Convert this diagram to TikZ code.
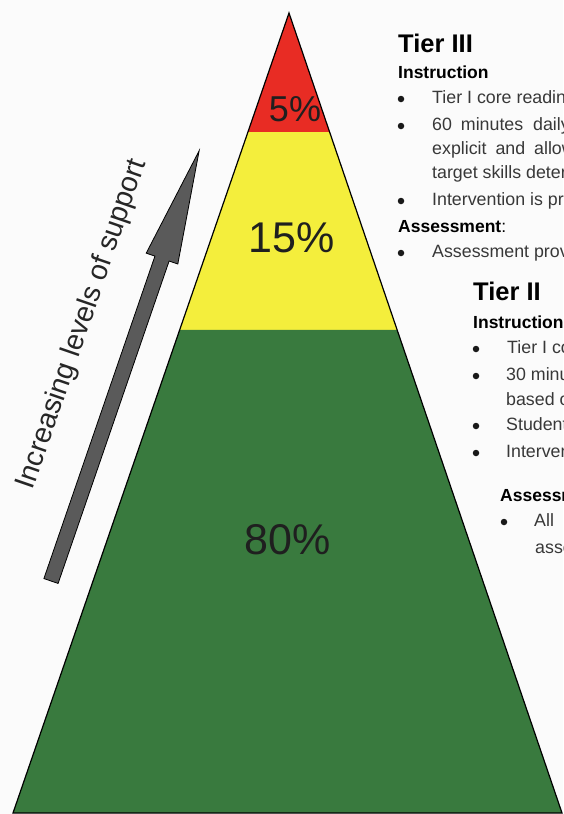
\documentclass[tikz,border=0pt]{standalone}
\usepackage{fontspec}
\setmainfont{Liberation Sans}
\usetikzlibrary{calc}
\definecolor{tierred}{RGB}{232,44,36}
\definecolor{tieryellow}{RGB}{244,238,60}
\definecolor{tiergreen}{RGB}{57,122,62}
\definecolor{arrowgray}{RGB}{90,90,90}
\definecolor{paper}{RGB}{251,251,251}
\tikzset{
	tiertitle/.style={anchor=base west,inner sep=0pt,font=\fontsize{25.5}{28}\selectfont\bfseries},
	tierhead/.style={anchor=base west,inner sep=0pt,font=\fontsize{17.5}{20}\selectfont\bfseries},
	tierline/.style={anchor=base west,inner sep=0pt,text=black!78,font=\fontsize{17.8}{19}\selectfont},
	tierbullet/.style={circle,fill=black!90,inner sep=0pt,minimum size=6.5pt},
	percent/.style={inner sep=0pt,text=black!88,font=\fontsize{#1}{#1}\selectfont}
}
\begin{document}
\begin{tikzpicture}[x=1pt,y=-1pt]
	\useasboundingbox [fill=paper] (0,0) rectangle (563,814);
	\clip (0,0) rectangle (563,814);
	\coordinate (apex) at (289,13);
	\coordinate (bl) at (13,813);
	\coordinate (br) at (562,813);
	\coordinate (rl) at ($(apex)!.149!(bl)$);
	\coordinate (rr) at ($(apex)!.149!(br)$);
	\coordinate (yl) at ($(apex)!.396!(bl)$);
	\coordinate (yr) at ($(apex)!.396!(br)$);
	\fill [tierred] (apex)--(rr)--(rl)--cycle;
	\fill [tieryellow] (rl)--(rr)--(yr)--(yl)--cycle;
	\fill [tiergreen] (yl)--(yr)--(br)--(bl)--cycle;
	\draw [line width=1.2] (apex)--(br)--(bl)--cycle;
	\path
	(295,109) node (five) [percent=36] {5\%}
	(292,238) node (fifteen) [percent=43] {15\%}
	(288,540) node (eighty) [percent=43] {80\%}
	;
	\coordinate (tail) at (51,581);
	\begin{scope}[shift={(tail)},rotate=71]
	\filldraw [fill=arrowgray,line width=.8] (0,-7.5)--(341,-7.5)--(341,-16.7)--(455,0)--(341,16.7)--(341,7.5)--(0,7.5)--cycle;
	\node (support) [rotate=71,inner sep=0pt,text=black!85,font=\fontsize{28.5}{30}\selectfont] at (253,-54) {Increasing levels of support};
	\end{scope}
	\path
	(398,52) node (tthree) [tiertitle] {Tier III}
	(398,78) node (tthreeinstr) [tierhead] {Instruction}
	(401,99) node (tthreebi) [tierbullet] {}
	(432,103) node (tthreei) [tierline] {Tier I core reading program}
	(401,126) node (tthreebii) [tierbullet] {}
	(432,130) node (tthreeii) [tierline] {60\hspace{4pt} minutes\hspace{5pt} daily intervention}
	(432,154) node (tthreeiii) [tierline] {explicit\hspace{4pt} and\hspace{4pt} allows practice}
	(432,178) node (tthreeiv) [tierline] {target skills determined}
	(401,201) node (tthreebiii) [tierbullet] {}
	(432,205) node (tthreev) [tierline] {Intervention is provided}
	(398,232) node (tthreeassess) [tierhead] {Assessment{\mdseries :}}
	(401,253) node (tthreebiv) [tierbullet] {}
	(432,257) node (tthreevi) [tierline] {Assessment provides}
	;
	\path
	(473,300) node (ttwo) [tiertitle] {Tier II}
	(473,328) node (ttwoinstr) [tierhead] {Instruction}
	(476,349) node (ttwobi) [tierbullet] {}
	(507,353) node (ttwoi) [tierline] {Tier I core}
	(476,376) node (ttwobii) [tierbullet] {}
	(506,380) node (ttwoii) [tierline] {30 minutes}
	(506,405) node (ttwoiii) [tierline] {based on}
	(476,426) node (ttwobiii) [tierbullet] {}
	(506,430) node (ttwoiv) [tierline] {Students}
	(476,453) node (ttwobiv) [tierbullet] {}
	(506,457) node (ttwov) [tierline] {Intervention}
	(500,501) node (ttwoassess) [tierhead] {Assessment:}
	(504,522) node (ttwobv) [tierbullet] {}
	(534,526) node (ttwovi) [tierline] {All\hspace{12pt} students}
	(535,553) node (ttwovii) [tierline] {assessed}
	;
\end{tikzpicture}
\end{document}
